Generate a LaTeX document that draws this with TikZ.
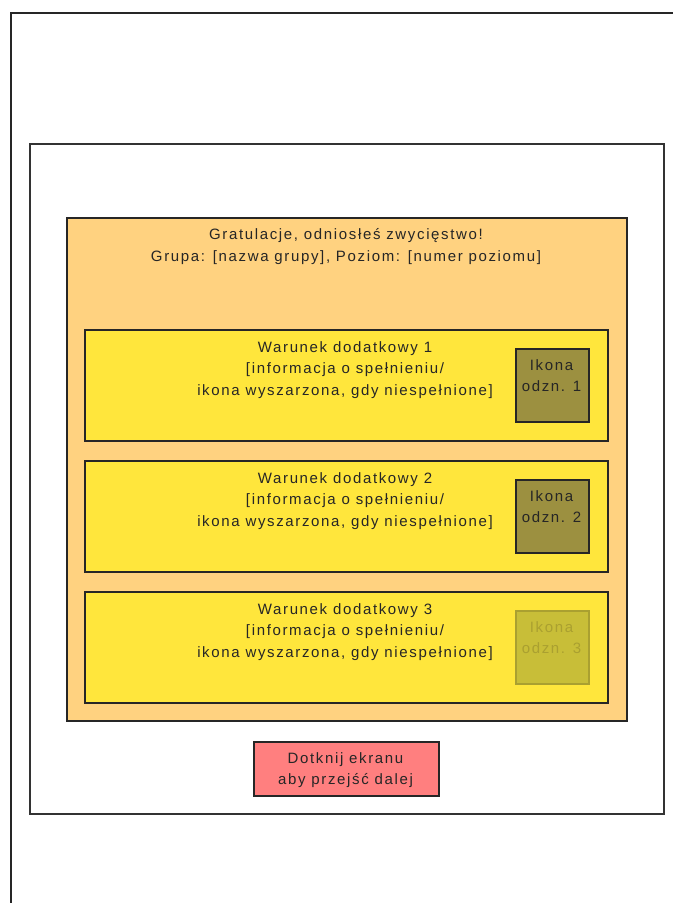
\documentclass[tikz,border=0pt]{standalone}
\usepackage{fontspec}
\setmainfont[LetterSpace=11]{Liberation Sans}
\begin{document}
\begin{tikzpicture}[x=1pt,y=-1pt,
  box/.style={draw=black!85, line width=1.8pt, anchor=north west, inner sep=0pt},
  txt/.style={font=\fontsize{15}{21.8}\selectfont, text=black!85, align=center, inner sep=0pt, anchor=north},
  condbox/.style={box, fill=condyellow, minimum width=523, minimum height=111},
  iconbox/.style={box, fill=iconolive, minimum width=73, minimum height=73},
]
\definecolor{panelorange}{RGB}{255,210,128}
\definecolor{condyellow}{RGB}{255,230,60}
\definecolor{iconolive}{RGB}{156,144,64}
\definecolor{icongrey}{RGB}{200,190,56}
\definecolor{icongreyline}{RGB}{170,160,48}
\definecolor{btnred}{RGB}{255,127,127}
\useasboundingbox (0,0) rectangle (673,903);
% device frame (cut by the picture's edges)
\coordinate (fbl) at (10.5,903);
\coordinate (ftl) at (10.5,12.5);
\coordinate (ftr) at (673,12.5);
\draw[line width=2pt, black!85] (fbl) -- (ftl) -- (ftr);
% screen
\node[box, draw=black!80, minimum width=634, minimum height=670] (screen) at (29,143) {};
% panel
\node[box, fill=panelorange, minimum width=560, minimum height=503] (panel) at (66,217) {};
\node[txt] (title) at (346,228) {Gratulacje, odniosłeś zwycięstwo!\\Grupa: [nazwa grupy], Poziom: [numer poziomu]};
% conditions
\node[condbox] (cond1) at (84,329) {};
\node[condbox] (cond2) at (84,460) {};
\node[condbox] (cond3) at (84,591) {};
\node[txt] (ct1) at (345,341) {Warunek dodatkowy 1\\{[}informacja o spełnieniu/\\ikona wyszarzona, gdy niespełnione]};
\node[txt] (ct2) at (345,472) {Warunek dodatkowy 2\\{[}informacja o spełnieniu/\\ikona wyszarzona, gdy niespełnione]};
\node[txt] (ct3) at (345,603) {Warunek dodatkowy 3\\{[}informacja o spełnieniu/\\ikona wyszarzona, gdy niespełnione]};
% icons
\node[iconbox] (icon1) at (515,348) {};
\node[iconbox] (icon2) at (515,479) {};
\node[iconbox, fill=icongrey, draw=icongreyline] (icon3) at (515,610) {};
\node[txt] (it1) at (551.5,359) {Ikona\\odzn. 1};
\node[txt] (it2) at (551.5,490) {Ikona\\odzn. 2};
\node[txt, text=icongreyline] (it3) at (551.5,621) {Ikona\\odzn. 3};
% button
\node[box, fill=btnred, minimum width=185, minimum height=54] (button) at (253,741) {};
\node[txt] (bt) at (345.5,752) {Dotknij ekranu\\aby przejść dalej};
\end{tikzpicture}
\end{document}
